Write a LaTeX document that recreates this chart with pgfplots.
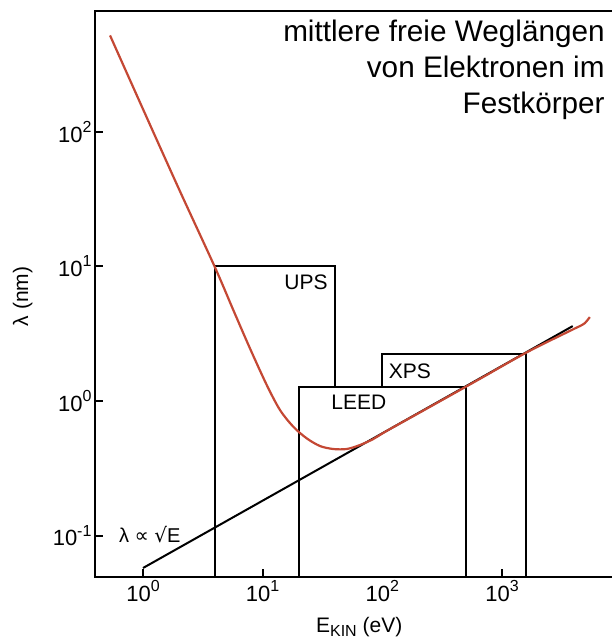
\documentclass[border=0pt]{standalone}
\usepackage{fontspec}
\setmainfont{Liberation Sans}
\newfontfamily\djv{DejaVu Sans}
\usepackage{pgfplots}
\pgfplotsset{compat=1.18}
\definecolor{curvered}{RGB}{196,72,52}
\newcommand{\pw}[1]{10\raisebox{0.45em}{\fontsize{16}{16}\selectfont #1}}
\begin{document}
\begin{tikzpicture}
\begin{axis}[
  name=ax,
  at={(0,0)}, anchor=south west,
  scale only axis, width=516pt, height=566pt,
  xmode=log, ymode=log,
  xmin=0.397, xmax=8147, ymin=0.0493, ymax=788,
  axis lines=left, axis line style={-, line width=2.8pt, line cap=rect},
  xminorticks=false, yminorticks=false,
  tick align=inside, major tick length=8pt,
  every tick/.style={black, line width=2.2pt},
  xtick={1,10,1000}, xticklabels={\pw{0},\pw{1},\pw{3}},
  extra x ticks={100}, extra x tick labels={\pw{2}},
  extra x tick style={major tick length=0pt},
  ytick={0.1,1,10,100}, yticklabels={\pw{-1},\pw{0},\pw{1},\pw{2}},
  ticklabel style={font=\fontsize{22}{26}\selectfont},
  xlabel={E\raisebox{-0.22em}{\fontsize{16}{16}\selectfont KIN} (eV)},
  xlabel style={at={(axis description cs:0.512,-0.0975)}, anchor=base, font=\fontsize{21}{24}\selectfont},
  ylabel={λ (nm)},
  ylabel style={at={(axis description cs:-0.14,0.496)}, anchor=center, font=\fontsize{21}{24}\selectfont},
  clip=false,
]
% UPS box
\addplot[black, line width=2pt] coordinates {(4,0.0493) (4,10) (40,10) (40,1.27)};
% LEED box
\addplot[black, line width=2pt] coordinates {(20,0.0493) (20,1.27) (500,1.27) (500,0.0493)};
% XPS box
\addplot[black, line width=2pt] coordinates {(100,1.27) (100,2.23) (1600,2.23) (1600,0.0493)};
% sqrt line
\addplot[black, line width=2pt] coordinates {(1,0.0575) (3900,3.60)};
% red curve
\addplot[curvered, line width=2.2pt, smooth, tension=0.5] coordinates {
(0.530,519) (1.0,147) (2.0,37.4) (3.96,10.0)
(5.68,4.74) (7.83,2.46) (10.81,1.315) (13.96,0.857) (18.03,0.644) (23.33,0.528)
(30.14,0.463) (38.9,0.440) (50.4,0.440) (65.0,0.471) (84.0,0.522) (109,0.600) (250,0.905)
(653,1.46) (1614,2.30) (3911,3.40) (4477,3.60) (4929,3.79) (5420,4.20)};
\node[font=\fontsize{21}{24}\selectfont] at (axis cs:23,7.63) {UPS};
\node[font=\fontsize{21}{24}\selectfont] at (axis cs:63.7,0.975) {LEED};
\node[font=\fontsize{21}{24}\selectfont] at (axis cs:170,1.67) {XPS};
\node[font=\fontsize{20}{24}\selectfont] at (axis cs:1.14,0.102) {λ~{\djv ∝}~{\djv √}E};
\node[anchor=north east, align=right, inner sep=0pt, font=\fontsize{29.7}{36}\selectfont]
  at (axis description cs:0.988,0.984) {mittlere freie Weglängen\\von Elektronen im\\Festkörper};
\end{axis}
\draw[line width=2.8pt, line cap=rect] (ax.north west) -- (ax.north east);
\pgfresetboundingbox
\path[use as bounding box] (-95pt,-62pt) rectangle (516pt,577pt);
\end{tikzpicture}
\end{document}
